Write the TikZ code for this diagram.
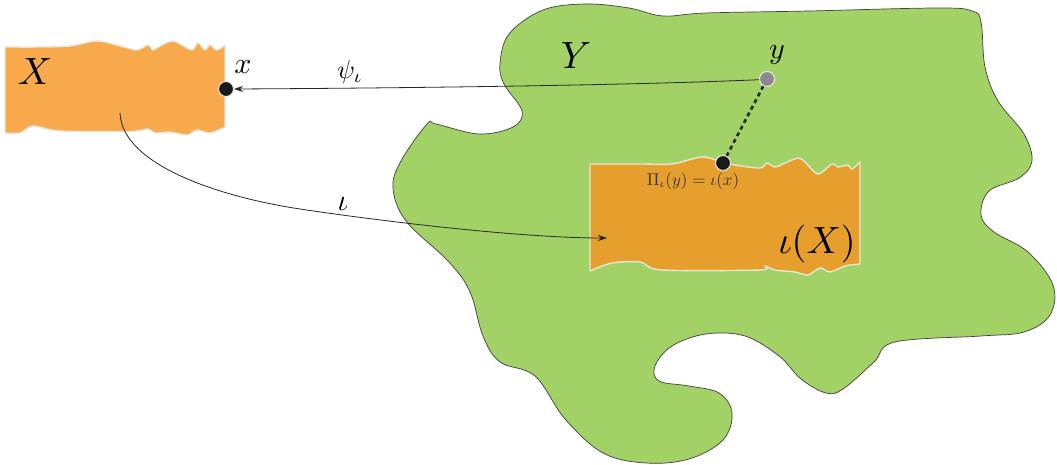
\documentclass[tikz,border=0pt]{standalone}
\usepackage{graphicx}
\usetikzlibrary{arrows.meta}
\definecolor{blobgreen}{HTML}{A2D166}
\definecolor{lightorange}{HTML}{F7A94B}
\definecolor{darkorange}{HTML}{E69F2C}
\definecolor{rimgray}{HTML}{E6E6DC}
\definecolor{dotgray}{HTML}{8A8A8E}
\newcommand{\bigsz}[1]{\scalebox{3.8}{#1}}
\newcommand{\midsz}[1]{\scalebox{3.0}{#1}}
\newcommand{\psisz}[1]{\scalebox{2.6}{#1}}
\newcommand{\smallsz}[1]{\scalebox{1.7}{#1}}
\tikzset{
  blob/.style={fill=blobgreen, draw=black!75, line width=0.7pt},
  torn/.style={draw=rimgray, line width=1.4pt, line join=round},
  dotnode/.style={circle, inner sep=0pt, minimum size=15pt, draw=rimgray, line width=1pt},
  arr/.style={draw=black!85, line width=0.8pt, -{Stealth[length=9pt,width=6pt]}},
  lab/.style={inner sep=0pt},
  smalllabel/.style={inner sep=0pt, text=black!80}
}
\begin{document}
\begin{tikzpicture}[x=1pt,y=-1pt]
\useasboundingbox (0,0) rectangle (1057,465);
% Y blob
\path[blob] plot[smooth cycle, tension=0.6] coordinates {
(500,64) (509,34) (543,10) (586,4) (629,8) (663,16) (706,13) (809,11) (938,8) (972,11)
(981,22) (985,67) (998,101) (1024,134) (1032,161) (1019,178) (989,191) (981,215)
(994,232) (1028,252) (1053,285) (1050,315) (1024,332) (981,336) (895,342) (874,362)
(843,389) (826,393) (801,379) (779,356) (745,336) (706,334) (672,346) (655,366)
(659,381) (689,386) (719,393) (732,413) (723,440) (689,459) (646,463) (603,453)
(565,419) (535,376) (500,362) (483,336) (470,292) (449,262) (406,221) (393,188)
(401,161) (427,124) (436,124) (479,134) (513,127) (522,111) (504,84)};
% X set
\path[torn, fill=lightorange] (5,47)
 -- plot[smooth, tension=0.5] coordinates {(5,47) (40,47) (70,46) (97,41) (120,46) (137,50)
 (148,45) (153,50) (160,46) (172,41) (180,44) (192,50) (198,43) (205,50) (210,45) (217,50) (225,45)}
 -- (225,127)
 -- plot[smooth, tension=0.5] coordinates {(225,127) (210,133) (197,130) (187,135) (170,132)
 (155,133) (148,129) (130,131.5) (60,131) (33,126) (20,133) (5,133)}
 -- cycle;
% iota(X) set
\path[torn, fill=darkorange] (590,164)
 -- plot[smooth, tension=0.5] coordinates {(590,164) (640,164) (672,164) (702,157) (722,162)
 (735,165) (760,168) (767,163) (775,167) (785,163) (798,158) (805,162) (818,174) (832,164)
 (838,167) (848,165) (852,169) (860,162)}
 -- (860,264)
 -- plot[smooth, tension=0.5] coordinates {(860,264) (845,266) (830,272) (820,268) (808,275)
 (795,272) (775,270) (765,266) (760,270) (662,270) (640,262) (612,263) (590,271)}
 -- cycle;
% labels
\node[lab] (Xl) at (35,72) {\bigsz{$X$}};
\node[lab] (Yl) at (576,56) {\bigsz{$Y$}};
\node[lab] (iXl) at (817,244) {\bigsz{$\iota(X)$}};
\node[lab] (xl) at (243,67) {\midsz{$x$}};
\node[lab] (yl) at (777,55) {\midsz{$y$}};
\node[lab] (il) at (343,204) {\midsz{$\iota$}};
\node[lab] (psil) at (350,72) {\psisz{$\psi_\iota$}};
\node[smalllabel] (pil) at (693,181) {\smallsz{$\Pi_\iota(y)=\iota(x)$}};
% points
\node[dotnode, fill=black!90] (xd) at (226,89) {};
\node[dotnode, fill=dotgray] (yd) at (767,79) {};
\node[dotnode, fill=black!90] (pd) at (723,163) {};
\coordinate (istart) at (120,113);
\coordinate (iend) at (607,238);
% connectors
\draw[black!85, line width=2.6pt, dash pattern=on 4pt off 3.5pt] (yd) -- (pd);
\node[dotnode, fill=black!90] at (pd) {};
\node[dotnode, fill=dotgray] at (yd) {};
\draw[arr] (yd.185) .. controls (640,85) and (420,88) .. (xd.east);
\draw[arr] (istart) .. controls (122,165) and (220,197) .. (300,209)
  .. controls (380,221) and (520,238) .. (iend);
\end{tikzpicture}
\end{document}
